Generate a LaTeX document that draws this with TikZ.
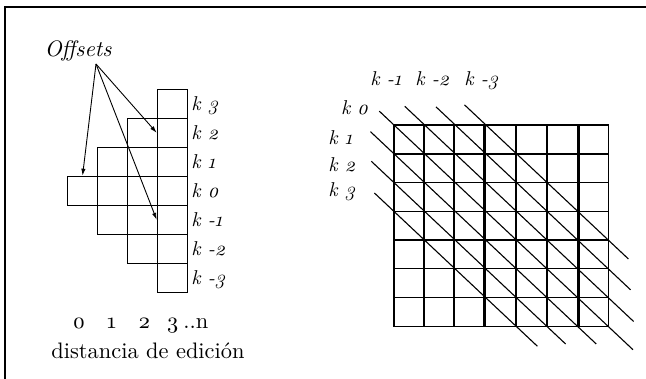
\documentclass[tikz,border=0pt]{standalone}
\usepackage{fontspec}
\setmainfont{lmroman10-regular.otf}[ItalicFont=lmroman10-italic.otf, Numbers=OldStyle]
\usetikzlibrary{arrows.meta, positioning}

\tikzset{
  cell/.style={draw, line width=0.6pt, inner sep=0pt, minimum width=14.95pt, minimum height=14.5pt},
  klabel/.style={font=\itshape, inner sep=0pt, anchor=base west},
  pointer/.style={-{Latex[length=3.5pt, width=2.2pt]}, line width=0.45pt},
  diag/.style={line width=0.55pt},
}

\begin{document}
\begin{tikzpicture}[x=0.5pt, y=-0.5pt, font=\fontsize{11.2}{13}\selectfont]
  \useasboundingbox (0,0) rectangle (646,379);
  % Frame
  \draw[line width=0.8pt] (5,379) -- (5,7) -- (646,7);
  % Staircase of offsets
  \foreach \c in {0,...,3} {
    \foreach \r in {0,...,6} {
      \pgfmathtruncatemacro{\ok}{abs(3-\r)<=\c}
      \ifnum\ok=1
        \node[cell] (c\c r\r) at ({82.55+29.9*\c}, {103.8+29*\r}) {};
      \fi
    }
  }
  % Row labels
  \foreach \r/\t in {0/3, 1/2, 2/1, 3/0, 4/-1, 5/-2, 6/-3}
    \node[klabel] (l\r) at (191, {110.8+29*\r}) {k \t};
  % Offsets pointers
  \node (offsets) at (78,51) {\itshape Offsets};
  \coordinate (fan) at (96,64);
  \draw[pointer] (fan) -- (c0r3.north);
  \draw[pointer] (fan) -- (c3r1.west);
  \draw[pointer] (fan) -- (c3r4.west);
  % Edit distance axis
  \node[anchor=base] (d0) at (79,328) {0};
  \node[anchor=base] (d1) at (111.7,328) {1};
  \node[anchor=base] (d2) at (144.3,328) {2};
  \node[anchor=base] (d3) at (172.7,328) {3};
  \node[anchor=base west, inner sep=0pt] (dn) at (183,328) {..n};
  \node[anchor=base] (axis) at (148,358) {distancia de edición};
  % Full matrix
  \foreach \x [count=\i] in {394,424,454,484.5,515.7,547,578.5,608.5} {
    \pgfmathsetmacro{\lw}{(\i>3 && \i<8) ? 1.05 : 0.6}
    \draw[line width=\lw pt] (\x,125) -- (\x,326.7);
  }
  \foreach \y in {125,154,182.7,211.3,240,268.7,297.7,326.7}
    \draw[line width=0.6pt] (394,\y) -- (608.5,\y);
  % Diagonals
  \foreach \k/\a/\b in {0/-0.48/7.8, 1/-0.77/6.6, 2/-0.74/5.6, 3/-0.64/4.68,
                        -1/0.35/7.82, -2/1.37/7.72, -3/2.3/7.65}
    \draw[diag] ({394+30.64*\a}, {125+28.81*(\a+\k)}) -- ({394+30.64*\b}, {125+28.81*(\b+\k)});
  % Diagonal labels
  \node[klabel] (k0) at (340.7,114.3) {k 0};
  \node[klabel] (k1) at (328,145) {k 1};
  \node[klabel] (k2) at (328,171.7) {k 2};
  \node[klabel] (k3) at (328,196.7) {k 3};
  \node[klabel] (km1) at (370,86) {k -1};
  \node[klabel] (km2) at (415,86) {k -2};
  \node[klabel] (km3) at (464,86) {k -3};
\end{tikzpicture}
\end{document}
